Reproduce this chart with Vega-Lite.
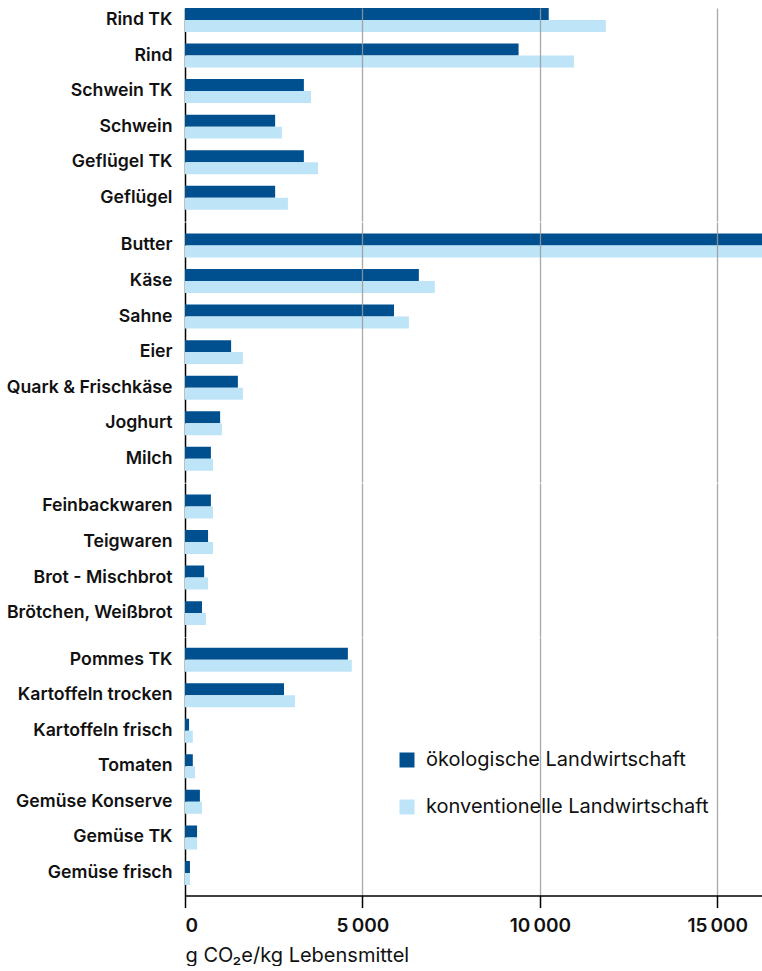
{
  "$schema": "https://vega.github.io/schema/vega-lite/v6.json",
  "padding": {"left": 0, "top": 8, "right": 0, "bottom": 0},
  "autosize": {"type": "pad"},
  "spacing": 0,
  "config": {
    "view": {"stroke": null},
    "font": "Inter",
    "concat": {"spacing": 0},
    "axisY": {"title": null, "ticks": false, "domain": true, "domainColor": "#000", "domainWidth": 1.5, "labelFontSize": 17.7, "labelFontWeight": 600, "labelColor": "#111", "labelPadding": 13, "minExtent": 185, "maxExtent": 185, "labelLimit": 300}
  },
  "datasets": {
    "d": [
      {"group": "Fleisch", "item": "Rind TK", "system": "ökologische Landwirtschaft", "value": 10250},
      {"group": "Fleisch", "item": "Rind TK", "system": "konventionelle Landwirtschaft", "value": 11860},
      {"group": "Fleisch", "item": "Rind", "system": "ökologische Landwirtschaft", "value": 9400},
      {"group": "Fleisch", "item": "Rind", "system": "konventionelle Landwirtschaft", "value": 10960},
      {"group": "Fleisch", "item": "Schwein TK", "system": "ökologische Landwirtschaft", "value": 3350},
      {"group": "Fleisch", "item": "Schwein TK", "system": "konventionelle Landwirtschaft", "value": 3550},
      {"group": "Fleisch", "item": "Schwein", "system": "ökologische Landwirtschaft", "value": 2540},
      {"group": "Fleisch", "item": "Schwein", "system": "konventionelle Landwirtschaft", "value": 2730},
      {"group": "Fleisch", "item": "Geflügel TK", "system": "ökologische Landwirtschaft", "value": 3350},
      {"group": "Fleisch", "item": "Geflügel TK", "system": "konventionelle Landwirtschaft", "value": 3750},
      {"group": "Fleisch", "item": "Geflügel", "system": "ökologische Landwirtschaft", "value": 2540},
      {"group": "Fleisch", "item": "Geflügel", "system": "konventionelle Landwirtschaft", "value": 2900},
      {"group": "Milch", "item": "Butter", "system": "ökologische Landwirtschaft", "value": 23800},
      {"group": "Milch", "item": "Butter", "system": "konventionelle Landwirtschaft", "value": 24500},
      {"group": "Milch", "item": "Käse", "system": "ökologische Landwirtschaft", "value": 6590},
      {"group": "Milch", "item": "Käse", "system": "konventionelle Landwirtschaft", "value": 7040},
      {"group": "Milch", "item": "Sahne", "system": "ökologische Landwirtschaft", "value": 5890},
      {"group": "Milch", "item": "Sahne", "system": "konventionelle Landwirtschaft", "value": 6310},
      {"group": "Milch", "item": "Eier", "system": "ökologische Landwirtschaft", "value": 1300},
      {"group": "Milch", "item": "Eier", "system": "konventionelle Landwirtschaft", "value": 1630},
      {"group": "Milch", "item": "Quark & Frischkäse", "system": "ökologische Landwirtschaft", "value": 1490},
      {"group": "Milch", "item": "Quark & Frischkäse", "system": "konventionelle Landwirtschaft", "value": 1630},
      {"group": "Milch", "item": "Joghurt", "system": "ökologische Landwirtschaft", "value": 990},
      {"group": "Milch", "item": "Joghurt", "system": "konventionelle Landwirtschaft", "value": 1040},
      {"group": "Milch", "item": "Milch", "system": "ökologische Landwirtschaft", "value": 730},
      {"group": "Milch", "item": "Milch", "system": "konventionelle Landwirtschaft", "value": 790},
      {"group": "Back", "item": "Feinbackwaren", "system": "ökologische Landwirtschaft", "value": 730},
      {"group": "Back", "item": "Feinbackwaren", "system": "konventionelle Landwirtschaft", "value": 790},
      {"group": "Back", "item": "Teigwaren", "system": "ökologische Landwirtschaft", "value": 650},
      {"group": "Back", "item": "Teigwaren", "system": "konventionelle Landwirtschaft", "value": 790},
      {"group": "Back", "item": "Brot - Mischbrot", "system": "ökologische Landwirtschaft", "value": 540},
      {"group": "Back", "item": "Brot - Mischbrot", "system": "konventionelle Landwirtschaft", "value": 650},
      {"group": "Back", "item": "Brötchen, Weißbrot", "system": "ökologische Landwirtschaft", "value": 480},
      {"group": "Back", "item": "Brötchen, Weißbrot", "system": "konventionelle Landwirtschaft", "value": 590},
      {"group": "Gemüse", "item": "Pommes TK", "system": "ökologische Landwirtschaft", "value": 4590},
      {"group": "Gemüse", "item": "Pommes TK", "system": "konventionelle Landwirtschaft", "value": 4700},
      {"group": "Gemüse", "item": "Kartoffeln trocken", "system": "ökologische Landwirtschaft", "value": 2790},
      {"group": "Gemüse", "item": "Kartoffeln trocken", "system": "konventionelle Landwirtschaft", "value": 3100},
      {"group": "Gemüse", "item": "Kartoffeln frisch", "system": "ökologische Landwirtschaft", "value": 115},
      {"group": "Gemüse", "item": "Kartoffeln frisch", "system": "konventionelle Landwirtschaft", "value": 220},
      {"group": "Gemüse", "item": "Tomaten", "system": "ökologische Landwirtschaft", "value": 220},
      {"group": "Gemüse", "item": "Tomaten", "system": "konventionelle Landwirtschaft", "value": 280},
      {"group": "Gemüse", "item": "Gemüse Konserve", "system": "ökologische Landwirtschaft", "value": 420},
      {"group": "Gemüse", "item": "Gemüse Konserve", "system": "konventionelle Landwirtschaft", "value": 480},
      {"group": "Gemüse", "item": "Gemüse TK", "system": "ökologische Landwirtschaft", "value": 340},
      {"group": "Gemüse", "item": "Gemüse TK", "system": "konventionelle Landwirtschaft", "value": 340},
      {"group": "Gemüse", "item": "Gemüse frisch", "system": "ökologische Landwirtschaft", "value": 140},
      {"group": "Gemüse", "item": "Gemüse frisch", "system": "konventionelle Landwirtschaft", "value": 140}
    ]
  },
  "resolve": {"scale": {"x": "shared", "color": "shared"}},
  "vconcat": [
    {
      "data": {"name": "d"},
      "transform": [{"filter": "datum.group === 'Fleisch'"}],
      "width": 577,
      "height": {"step": 35.55, "for": "position"},
      "mark": {"type": "bar", "clip": true},
      "encoding": {
        "y": {"field": "item", "type": "nominal", "sort": null, "scale": {"paddingInner": 0.326, "paddingOuter": 0.1615, "align": 0}},
        "yOffset": {"field": "system", "type": "nominal", "sort": ["ökologische Landwirtschaft", "konventionelle Landwirtschaft"], "scale": {"paddingInner": 0, "paddingOuter": 0}},
        "x": {"field": "value", "type": "quantitative", "scale": {"domain": [0, 16260], "nice": false}, "axis": {"grid": true, "gridColor": "#9a9a9a", "gridWidth": 1.3, "gridOpacity": 0.85, "zindex": 1, "values": [5000, 10000, 15000], "labels": false, "ticks": false, "domain": false, "title": null}},
        "color": {"field": "system", "type": "nominal", "sort": ["ökologische Landwirtschaft", "konventionelle Landwirtschaft"], "scale": {"domain": ["ökologische Landwirtschaft", "konventionelle Landwirtschaft"], "range": ["#00508F", "#BEE4F8"]}, "legend": {"title": null, "orient": "none", "legendX": 212, "legendY": 742, "symbolType": "square", "symbolSize": 225, "symbolStrokeWidth": 0, "labelFontSize": 20, "labelFont": "Inter", "labelColor": "#111", "labelOffset": 9, "rowPadding": 27, "padding": 0, "labelLimit": 400}}
      }
    },
    {
      "data": {"name": "d"},
      "transform": [{"filter": "datum.group === 'Milch'"}],
      "width": 577,
      "height": {"step": 35.55, "for": "position"},
      "mark": {"type": "bar", "clip": true},
      "encoding": {
        "y": {"field": "item", "type": "nominal", "sort": null, "scale": {"paddingInner": 0.326, "paddingOuter": 0.323}},
        "yOffset": {"field": "system", "type": "nominal", "sort": ["ökologische Landwirtschaft", "konventionelle Landwirtschaft"], "scale": {"paddingInner": 0, "paddingOuter": 0}},
        "x": {"field": "value", "type": "quantitative", "scale": {"domain": [0, 16260], "nice": false}, "axis": {"grid": true, "gridColor": "#9a9a9a", "gridWidth": 1.3, "gridOpacity": 0.85, "zindex": 1, "values": [5000, 10000, 15000], "labels": false, "ticks": false, "domain": false, "title": null}},
        "color": {"field": "system", "type": "nominal", "sort": ["ökologische Landwirtschaft", "konventionelle Landwirtschaft"], "scale": {"domain": ["ökologische Landwirtschaft", "konventionelle Landwirtschaft"], "range": ["#00508F", "#BEE4F8"]}, "legend": {"title": null, "orient": "none", "legendX": 212, "legendY": 742, "symbolType": "square", "symbolSize": 225, "symbolStrokeWidth": 0, "labelFontSize": 20, "labelFont": "Inter", "labelColor": "#111", "labelOffset": 9, "rowPadding": 27, "padding": 0, "labelLimit": 400}}
      }
    },
    {
      "data": {"name": "d"},
      "transform": [{"filter": "datum.group === 'Back'"}],
      "width": 577,
      "height": {"step": 35.55, "for": "position"},
      "mark": {"type": "bar", "clip": true},
      "encoding": {
        "y": {"field": "item", "type": "nominal", "sort": null, "scale": {"paddingInner": 0.326, "paddingOuter": 0.323}},
        "yOffset": {"field": "system", "type": "nominal", "sort": ["ökologische Landwirtschaft", "konventionelle Landwirtschaft"], "scale": {"paddingInner": 0, "paddingOuter": 0}},
        "x": {"field": "value", "type": "quantitative", "scale": {"domain": [0, 16260], "nice": false}, "axis": {"grid": true, "gridColor": "#9a9a9a", "gridWidth": 1.3, "gridOpacity": 0.85, "zindex": 1, "values": [5000, 10000, 15000], "labels": false, "ticks": false, "domain": false, "title": null}},
        "color": {"field": "system", "type": "nominal", "sort": ["ökologische Landwirtschaft", "konventionelle Landwirtschaft"], "scale": {"domain": ["ökologische Landwirtschaft", "konventionelle Landwirtschaft"], "range": ["#00508F", "#BEE4F8"]}, "legend": {"title": null, "orient": "none", "legendX": 212, "legendY": 742, "symbolType": "square", "symbolSize": 225, "symbolStrokeWidth": 0, "labelFontSize": 20, "labelFont": "Inter", "labelColor": "#111", "labelOffset": 9, "rowPadding": 27, "padding": 0, "labelLimit": 400}}
      }
    },
    {
      "data": {"name": "d"},
      "transform": [{"filter": "datum.group === 'Gemüse'"}],
      "width": 577,
      "height": {"step": 35.55, "for": "position"},
      "mark": {"type": "bar", "clip": true},
      "encoding": {
        "y": {"field": "item", "type": "nominal", "sort": null, "scale": {"paddingInner": 0.326, "paddingOuter": 0.3}},
        "yOffset": {"field": "system", "type": "nominal", "sort": ["ökologische Landwirtschaft", "konventionelle Landwirtschaft"], "scale": {"paddingInner": 0, "paddingOuter": 0}},
        "x": {"field": "value", "type": "quantitative", "scale": {"domain": [0, 16260], "nice": false}, "axis": {"grid": true, "gridColor": "#9a9a9a", "gridWidth": 1.3, "zindex": 1, "values": [0, 5000, 10000, 15000], "labels": true, "labelExpr": "replace(format(datum.value, ',d'), ',', '\u2009')", "labelFontSize": 19, "labelFontWeight": 600, "labelColor": "#111", "labelPadding": 9, "ticks": true, "tickColor": "#000", "tickSize": 12, "tickWidth": 1.5, "domain": true, "domainColor": "#000", "domainWidth": 1.5, "gridOpacity": {"condition": {"test": "datum.value === 0", "value": 0}, "value": 0.85}, "title": "g CO₂e/kg Lebensmittel", "titleFontSize": 20, "titleFontWeight": 400, "titleColor": "#111", "titleAnchor": "start", "titleAlign": "left", "titlePadding": 10}},
        "color": {"field": "system", "type": "nominal", "sort": ["ökologische Landwirtschaft", "konventionelle Landwirtschaft"], "scale": {"domain": ["ökologische Landwirtschaft", "konventionelle Landwirtschaft"], "range": ["#00508F", "#BEE4F8"]}, "legend": {"title": null, "orient": "none", "legendX": 212, "legendY": 742, "symbolType": "square", "symbolSize": 225, "symbolStrokeWidth": 0, "labelFontSize": 20, "labelFont": "Inter", "labelColor": "#111", "labelOffset": 9, "rowPadding": 27, "padding": 0, "labelLimit": 400}}
      }
    }
  ]
}
